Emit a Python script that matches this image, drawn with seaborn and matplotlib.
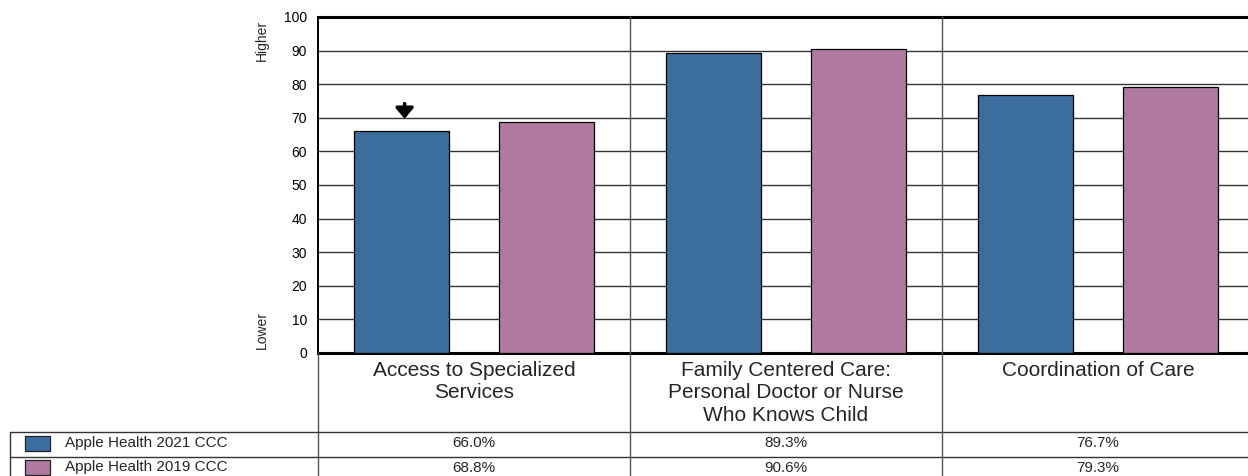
import matplotlib
matplotlib.use("Agg")
import matplotlib.pyplot as plt
import matplotlib.transforms as mtransforms
import seaborn as sns
import pandas as pd

# Survey composite scores by measure
categories = [
    "Access to Specialized\nServices",
    "Family Centered Care:\nPersonal Doctor or Nurse\nWho Knows Child",
    "Coordination of Care",
]
series = ["Apple Health 2021 CCC", "Apple Health 2019 CCC"]
values_2021 = [66.0, 89.3, 76.7]
values_2019 = [68.8, 90.6, 79.3]
colors = ["#3B6D9D", "#B07AA0"]
y_ticks = list(range(0, 101, 10))

df = pd.DataFrame({
    "measure": categories * 2,
    "series": [series[0]] * 3 + [series[1]] * 3,
    "score": values_2021 + values_2019,
})

sns.set_theme(style="white")
plt.rcParams["font.family"] = ["Liberation Sans", "DejaVu Sans"]

W, H = 1248, 476
fig = plt.figure(figsize=(W / 100, H / 100), dpi=100)

# plot area in pixels: left 318, top 17, bottom 353, three 312-px columns
left, top, bottom, col_w = 318, 17, 353, 312
ax = fig.add_axes([left / W, 1 - bottom / H, 3 * col_w / W, (bottom - top) / H])

sns.barplot(data=df, x="measure", y="score", hue="series", order=categories,
            hue_order=series, palette=colors, saturation=1, width=0.93, gap=0.35,
            edgecolor="black", linewidth=0.9, legend=False, ax=ax,
            zorder=3, errorbar=None)

ax.set_xlim(-0.5, 2.5)
ax.set_ylim(0, 100)
ax.set_yticks(y_ticks)
ax.set_yticklabels([str(t) for t in y_ticks], fontsize=10, color="black")
ax.tick_params(axis="y", length=0, pad=8)
ax.set_xticks([])
ax.set_xlabel("")
ax.set_ylabel("")
ax.yaxis.grid(True, color="#333333", linewidth=1.0, zorder=0)
ax.set_axisbelow(True)

for side in ["top", "bottom"]:
    ax.spines[side].set_linewidth(2.2)
    ax.spines[side].set_color("black")
ax.spines["left"].set_linewidth(1.4)
ax.spines["left"].set_color("black")
ax.spines["right"].set_visible(False)

# arrow above the first 2021 bar
blue_bar = ax.patches[0]
bx = blue_bar.get_x() + blue_bar.get_width() / 2 + 0.01
ax.annotate("", xy=(bx, values_2021[0] + 3.7), xytext=(bx, values_2021[0] + 8.2),
            arrowprops=dict(arrowstyle="-|>,head_length=0.45,head_width=0.38",
                            mutation_scale=14, lw=2.6, color="black",
                            shrinkA=0, shrinkB=0),
            zorder=5)

# Higher / Lower side labels
fig.text(262 / W, 1 - 40 / H, "Higher", rotation=90, ha="center", va="center", fontsize=10)
fig.text(262 / W, 1 - 330 / H, "Lower", rotation=90, ha="center", va="center", fontsize=10)

# transform: x in category units, y in figure fraction
bt = mtransforms.blended_transform_factory(ax.transData, fig.transFigure)
def fy(px):
    return 1 - px / H

table_top, row_mid, table_bot = 432, 457, 482
sep_color = "#555555"

# column separators from the top of the plot down through the table
for b in [0.5, 1.5, 2.5]:
    fig.add_artist(plt.Line2D([b, b], [fy(top), fy(table_bot)], transform=bt,
                              color=sep_color, lw=1.0, zorder=4))
fig.add_artist(plt.Line2D([-0.5, -0.5], [fy(bottom), fy(table_bot)], transform=bt,
                          color=sep_color, lw=1.0))

# table horizontal rules
for yy in [table_top, row_mid]:
    fig.add_artist(plt.Line2D([10 / W, 1], [fy(yy), fy(yy)], transform=fig.transFigure,
                              color="#333333", lw=1.0))
fig.add_artist(plt.Line2D([10 / W, 10 / W], [fy(table_top), fy(table_bot)],
                          transform=fig.transFigure, color="#333333", lw=1.0))

# category labels
for i, cat in enumerate(categories):
    fig.text(i, fy(bottom + 8), cat, transform=bt, ha="center", va="top",
             fontsize=15, linespacing=1.22)

# data rows with legend swatches
rows = [values_2021, values_2019]
row_centers = [443.0, 467.5]
for r, (name, vals, col, yc) in enumerate(zip(series, rows, colors, row_centers)):
    fig.add_artist(plt.Rectangle((25 / W, fy(yc + 7.5)), 25 / W, 15 / H,
                                 transform=fig.transFigure, facecolor=col,
                                 edgecolor="#222222", lw=0.9))
    fig.text(65 / W, fy(yc), name, ha="left", va="center", fontsize=11)
    for i, v in enumerate(vals):
        fig.text(i, fy(yc), f"{v:.1f}%", transform=bt, ha="center", va="center",
                 fontsize=11)

fig.savefig("out.png", dpi=100, facecolor="white")
